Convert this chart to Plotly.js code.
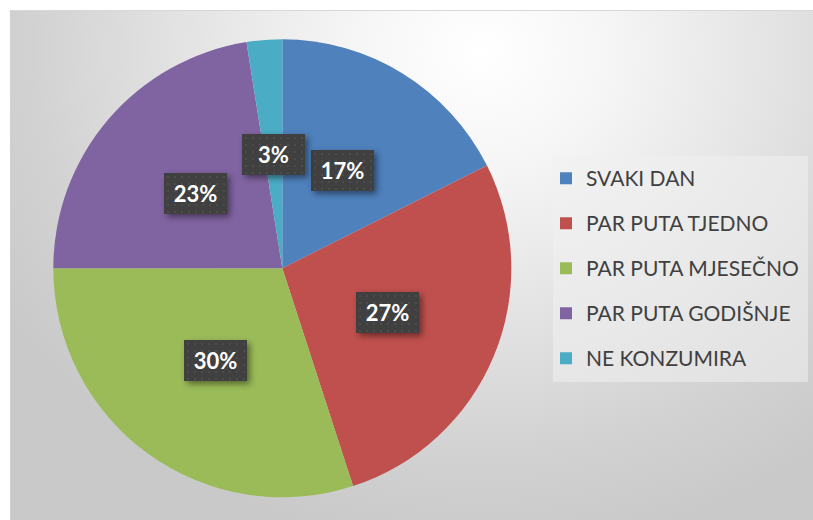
<!DOCTYPE html>
<html>
<head>
<meta charset="utf-8">
<script src="https://cdn.plot.ly/plotly-3.0.1.min.js"></script>
<style>
  html, body { margin: 0; padding: 0; background: #ffffff; }
  #frame {
    position: absolute; left: 10px; top: 10px; width: 803px; height: 510px;
    background: radial-gradient(ellipse 560px 500px at 470px 40px, #ffffff 0%, #f6f6f6 22%, #e2e2e2 55%, #d2d2d2 80%, #c9c9c9 100%);
    border-top: 1px solid #d8d8d8; border-left: 1px solid #d0d0d0; box-sizing: border-box;
  }
  #chart { position: absolute; left: 0; top: 0; width: 813px; height: 520px; }
  #chart .annotation rect.bg {
    fill: url(#dotpat) !important;
    filter: drop-shadow(3px 3px 3px rgba(0,0,0,0.45));
  }
</style>
</head>
<body>
<div id="frame"></div>
<div id="chart"></div>
<script>
// ---- data ----
var categories = ["SVAKI DAN", "PAR PUTA TJEDNO", "PAR PUTA MJESEČNO", "PAR PUTA GODIŠNJE", "NE KONZUMIRA"];
var shares = [17.6, 27.4, 30.0, 22.5, 2.5];
var pctLabels = ["17%", "27%", "30%", "23%", "3%"];
var colors = ["#4F81BD", "#C0504D", "#9BBB59", "#8064A2", "#4BACC6"];

// ---- layout constants ----
var W = 813, H = 520;
var domX = [0.06556, 0.62891];
var domY = [0.04365, 0.92442];

var cx = W * (domX[0] + domX[1]) / 2;
var cy = H * (1 - (domY[0] + domY[1]) / 2);
var r = Math.min(W * (domX[1] - domX[0]), H * (domY[1] - domY[0])) / 2;

var total = shares.reduce(function (a, b) { return a + b; }, 0);
var annotations = [];
var cum = 0;
for (var i = 0; i < shares.length; i++) {
  var mid = (cum + shares[i] / 2) / total * 2 * Math.PI;
  cum += shares[i];
  var px = cx + 0.5 * r * Math.sin(mid);
  var py = cy - 0.5 * r * Math.cos(mid);
  annotations.push({
    xref: "paper", yref: "paper", x: px / W, y: 1 - py / H,
    xanchor: "center", yanchor: "middle",
    text: "<b>" + pctLabels[i] + "</b>", showarrow: false,
    font: { family: "Lato, 'Open Sans', sans-serif", size: 22, color: "#ffffff" },
    bgcolor: "#404040", borderpad: 8, borderwidth: 0, width: 47, height: 25
  });
}

var legendLabels = categories.map(function (c) {
  return '<span style="font-size:21px;baseline-shift:5.1px">' + c + '</span>';
});

var trace = {
  type: "pie",
  labels: legendLabels,
  values: shares,
  sort: false,
  direction: "clockwise",
  rotation: 0,
  textinfo: "none",
  hoverinfo: "none",
  marker: { colors: colors, line: { width: 0 } },
  domain: { x: domX, y: domY }
};

var layout = {
  width: W, height: H,
  margin: { l: 0, r: 0, t: 0, b: 0 },
  paper_bgcolor: "rgba(0,0,0,0)",
  plot_bgcolor: "rgba(0,0,0,0)",
  showlegend: true,
  legend: {
    x: 546 / W, y: 1 - 150.8 / H, xanchor: "left", yanchor: "top",
    bgcolor: "rgba(0,0,0,0)", borderwidth: 0,
    font: { family: "Lato, 'Open Sans', sans-serif", size: 32.3, color: "#404040" },
    traceorder: "normal"
  },
  shapes: [{
    type: "rect", xref: "paper", yref: "paper",
    x0: 553 / W, x1: 808 / W, y0: 1 - 382 / H, y1: 1 - 156 / H,
    fillcolor: "rgba(240,240,240,0.55)", line: { width: 0 }, layer: "below"
  }],
  annotations: annotations
};

Plotly.newPlot("chart", [trace], layout, { staticPlot: true, displayModeBar: false }).then(function () {
  var svg = document.querySelector("#chart svg.main-svg");
  var ns = "http://www.w3.org/2000/svg";
  var defs = document.createElementNS(ns, "defs");
  var pat = document.createElementNS(ns, "pattern");
  pat.setAttribute("id", "dotpat");
  pat.setAttribute("width", "7");
  pat.setAttribute("height", "7");
  pat.setAttribute("patternUnits", "userSpaceOnUse");
  var base = document.createElementNS(ns, "rect");
  base.setAttribute("width", "7"); base.setAttribute("height", "7"); base.setAttribute("fill", "#404040");
  var dot = document.createElementNS(ns, "rect");
  dot.setAttribute("x", "3"); dot.setAttribute("y", "3");
  dot.setAttribute("width", "2"); dot.setAttribute("height", "2"); dot.setAttribute("fill", "#4c4c4c");
  pat.appendChild(base); pat.appendChild(dot);
  defs.appendChild(pat);
  svg.insertBefore(defs, svg.firstChild);
});
</script>
</body>
</html>
